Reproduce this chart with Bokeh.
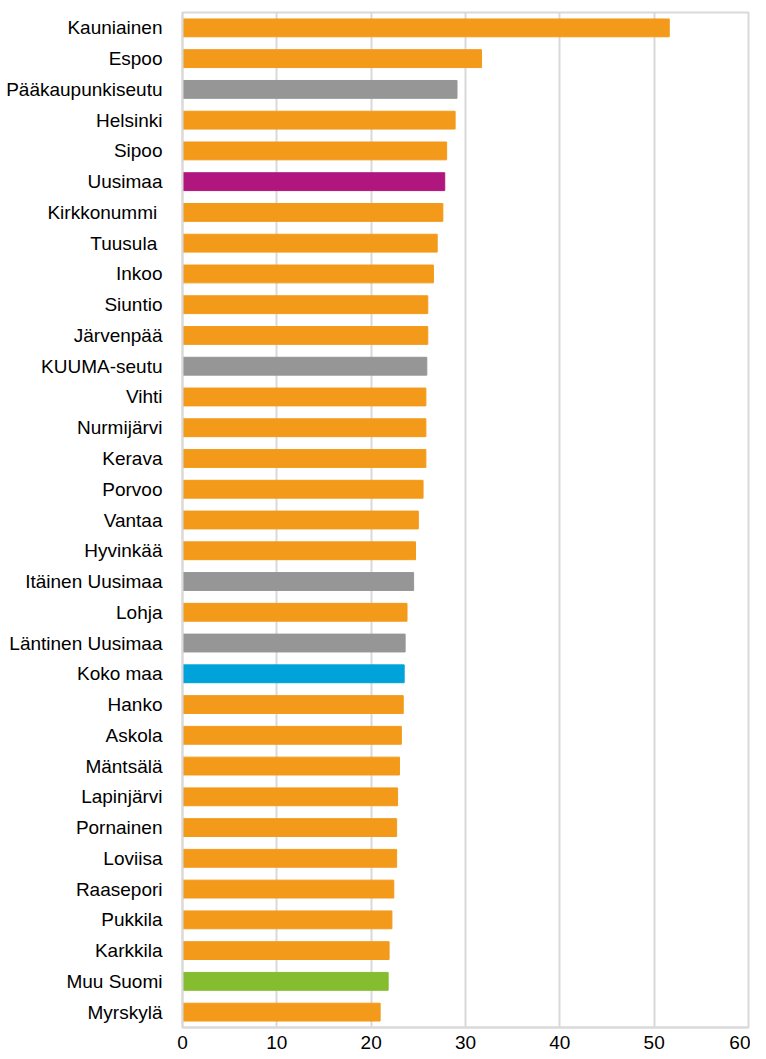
from bokeh.plotting import figure
from bokeh.models import ColumnDataSource, FactorRange, Range1d
from bokeh.embed import file_html
from bokeh.resources import INLINE

categories = ["Kauniainen", "Espoo", "Pääkaupunkiseutu", "Helsinki", "Sipoo", "Uusimaa",
              "Kirkkonummi ", "Tuusula ", "Inkoo", "Siuntio", "Järvenpää", "KUUMA-seutu",
              "Vihti", "Nurmijärvi", "Kerava", "Porvoo", "Vantaa", "Hyvinkää",
              "Itäinen Uusimaa", "Lohja", "Läntinen Uusimaa", "Koko maa", "Hanko", "Askola",
              "Mäntsälä", "Lapinjärvi", "Pornainen", "Loviisa", "Raasepori", "Pukkila",
              "Karkkila", "Muu Suomi", "Myrskylä"]
values = [51.6, 31.7, 29.1, 28.9, 28.0, 27.8,
          27.6, 27.0, 26.6, 26.0, 26.0, 25.9,
          25.8, 25.8, 25.8, 25.5, 25.0, 24.7,
          24.5, 23.8, 23.6, 23.5, 23.4, 23.2,
          23.0, 22.8, 22.7, 22.7, 22.4, 22.2,
          21.9, 21.8, 20.95]
groups = ["kunta", "kunta", "seutu", "kunta", "kunta", "maakunta",
          "kunta", "kunta", "kunta", "kunta", "kunta", "seutu",
          "kunta", "kunta", "kunta", "kunta", "kunta", "kunta",
          "seutu", "kunta", "seutu", "koko", "kunta", "kunta",
          "kunta", "kunta", "kunta", "kunta", "kunta", "kunta",
          "kunta", "muu", "kunta"]
x_ticks = [0, 10, 20, 30, 40, 50, 60]

palette = {"kunta": "#F39A1B", "seutu": "#969696", "maakunta": "#B0167E",
           "koko": "#00A3D9", "muu": "#84BD2F"}
colors = [palette[g] for g in groups]

src = ColumnDataSource(dict(cat=categories, val=values, color=colors))

p = figure(width=750, height=1051, output_backend="svg", toolbar_location=None,
           y_range=FactorRange(factors=list(reversed(categories)), range_padding=0),
           x_range=Range1d(0, 60))
p.min_border_left = 182
p.min_border_right = 2
p.min_border_top = 12
p.min_border_bottom = 18

p.hbar(y="cat", right="val", left=0, height=0.58, color="color", source=src)

p.xaxis.ticker = x_ticks
p.xaxis.major_tick_line_color = None
p.xaxis.minor_tick_line_color = None
p.xaxis.axis_line_color = "#d9d9d9"
p.xaxis.axis_line_width = 2
p.xaxis.major_label_text_font = "Liberation Sans"
p.xaxis.major_label_text_font_size = "19px"
p.xaxis.major_label_text_color = "#000000"
p.xaxis.major_label_standoff = 2

p.yaxis.major_tick_line_color = None
p.yaxis.minor_tick_line_color = None
p.yaxis.axis_line_color = "#d9d9d9"
p.yaxis.axis_line_width = 2
p.yaxis.major_label_text_font = "Liberation Sans"
p.yaxis.major_label_text_font_size = "19px"
p.yaxis.major_label_text_color = "#000000"
p.yaxis.major_label_standoff = 14

p.ygrid.grid_line_color = None
p.xgrid.grid_line_color = "#d9d9d9"
p.xgrid.grid_line_width = 2
p.outline_line_color = "#d9d9d9"
p.outline_line_width = 2
p.background_fill_color = "white"
p.border_fill_color = "white"

open("out.html", "w").write(file_html(p, INLINE))
